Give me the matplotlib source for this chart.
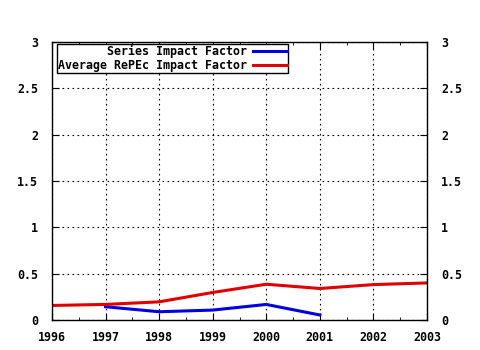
import matplotlib
matplotlib.use("Agg")
import matplotlib.pyplot as plt
from matplotlib.ticker import MultipleLocator

# impact factor per year
years_series = [1997, 1998, 1999, 2000, 2001]
series_if = [0.143, 0.089, 0.107, 0.168, 0.054]

years_repec = [1996, 1997, 1998, 1999, 2000, 2001, 2002, 2003]
repec_if = [0.157, 0.168, 0.196, 0.297, 0.386, 0.340, 0.382, 0.400]

y_ticks = [0, 0.5, 1, 1.5, 2, 2.5, 3]
y_labels = ["0", "0.5", "1", "1.5", "2", "2.5", "3"]

plt.rcParams["font.family"] = "DejaVu Sans Mono"
plt.rcParams["font.weight"] = "bold"
plt.rcParams["font.size"] = 8.4

fig = plt.figure(figsize=(4.8, 3.5), dpi=100)
ax = fig.add_axes([52 / 480, 30 / 350, 375 / 480, 278 / 350])

ax.plot(years_series, series_if, color="#0000e0", lw=2.2, label="Series Impact Factor")
ax.plot(years_repec, repec_if, color="#e00000", lw=2.2, label="Average RePEc Impact Factor")

ax.set_xlim(1996, 2003)
ax.set_ylim(0, 3)
ax.set_xticks(years_repec)
ax.set_xticklabels([str(y) for y in years_repec])
ax.xaxis.set_minor_locator(MultipleLocator(0.5))
ax.set_yticks(y_ticks)
ax.set_yticklabels(y_labels)

ax.grid(True, which="major", color="black", linestyle=(0, (1.5, 3)), lw=0.8)
ax.tick_params(which="both", direction="in", top=True, right=True,
               labelright=True, color="black")
ax.tick_params(which="major", length=5)
ax.tick_params(axis="x", which="major", pad=8)
ax.tick_params(axis="y", which="major", pad=10)
ax.tick_params(which="minor", length=2.5)
for s in ax.spines.values():
    s.set_linewidth(1)

leg = ax.legend(loc="upper left", bbox_to_anchor=(0.013, 0.993), borderaxespad=0,
                markerfirst=False, fancybox=False, framealpha=1, edgecolor="black",
                handlelength=2.9, handletextpad=0.5, labelspacing=0.05,
                borderpad=0.1, fontsize=8.4)
leg.get_frame().set_linewidth(1)

fig.savefig("out.png", dpi=100)
